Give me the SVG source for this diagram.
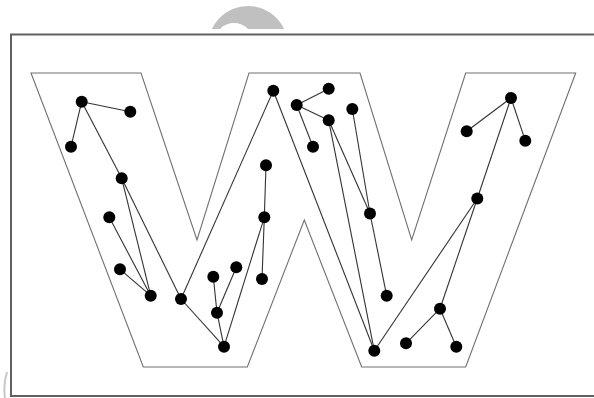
<svg xmlns="http://www.w3.org/2000/svg" width="594" height="398" viewBox="0 0 594 398">
  <style>
    .frame { fill: none; stroke: #606060; stroke-width: 2; }
    .outline { fill: none; stroke: #707070; stroke-width: 1.1; stroke-linejoin: miter; }
    .edge { stroke: #333; stroke-width: 1.1; fill: none; }
    .dot { fill: #000; }
  </style>
  <defs>
    <clipPath id="topclip"><rect x="0" y="0" width="594" height="29"/></clipPath>
  </defs>
  <rect width="594" height="398" fill="#fff"/>
  <g id="watermark">
    <g clip-path="url(#topclip)">
      <circle cx="248" cy="46" r="40" fill="#c0c0c0"/>
      <circle cx="234" cy="42.5" r="19.5" fill="#fff"/>
    </g>
    <path d="M7,372 Q3,385 5,398" fill="none" stroke="#c8c8c8" stroke-width="2"/>
  </g>
  <g id="frame">
    <path class="frame" d="M595,34.5 H11 V396 H595"/>
  </g>
  <g id="letter-w">
    <polygon class="outline" points="31,73 141,73 197,240 249,73 360,73 411.7,240 465.7,73 575.7,73 465.7,367 361.7,367 304.3,220 247.3,367 143.3,367"/>
  </g>
  <g id="connectors">
    <line class="edge" x1="81.7" y1="101.7" x2="130.3" y2="111.7"/>
    <line class="edge" x1="81.7" y1="101.7" x2="71" y2="146.7"/>
    <line class="edge" x1="81.7" y1="101.7" x2="121.7" y2="178.3"/>
    <line class="edge" x1="121.7" y1="178.3" x2="150.7" y2="295.7"/>
    <line class="edge" x1="121.7" y1="178.3" x2="181" y2="299"/>
    <line class="edge" x1="109.3" y1="217.3" x2="150.7" y2="295.7"/>
    <line class="edge" x1="120" y1="269.3" x2="150.7" y2="295.7"/>
    <line class="edge" x1="181" y1="299" x2="224" y2="346.7"/>
    <line class="edge" x1="181" y1="299" x2="273.3" y2="90.7"/>
    <line class="edge" x1="224" y1="346.7" x2="217" y2="312.7"/>
    <line class="edge" x1="217" y1="312.7" x2="213.3" y2="276.7"/>
    <line class="edge" x1="217" y1="312.7" x2="236.3" y2="267.3"/>
    <line class="edge" x1="224" y1="346.7" x2="264.3" y2="217.3"/>
    <line class="edge" x1="264.3" y1="217.3" x2="266" y2="165.3"/>
    <line class="edge" x1="264.3" y1="217.3" x2="262" y2="279"/>
    <line class="edge" x1="273.3" y1="90.7" x2="374.3" y2="350.7"/>
    <line class="edge" x1="296.7" y1="105" x2="328.7" y2="88.7"/>
    <line class="edge" x1="296.7" y1="105" x2="328.7" y2="120.3"/>
    <line class="edge" x1="296.7" y1="105" x2="313" y2="146.7"/>
    <line class="edge" x1="328.7" y1="120.3" x2="370" y2="213.5"/>
    <line class="edge" x1="328.7" y1="120.3" x2="374.3" y2="350.7"/>
    <line class="edge" x1="352.3" y1="109" x2="370" y2="213.5"/>
    <line class="edge" x1="370" y1="213.5" x2="386.7" y2="295.7"/>
    <line class="edge" x1="374.3" y1="350.7" x2="477.3" y2="198.5"/>
    <line class="edge" x1="477.3" y1="198.5" x2="511" y2="98"/>
    <line class="edge" x1="477.3" y1="198.5" x2="440" y2="308.7"/>
    <line class="edge" x1="440" y1="308.7" x2="406" y2="343.3"/>
    <line class="edge" x1="440" y1="308.7" x2="456.3" y2="346.7"/>
    <line class="edge" x1="511" y1="98" x2="466.7" y2="131.3"/>
    <line class="edge" x1="511" y1="98" x2="525.3" y2="140.7"/>
  </g>
  <g id="n1"><circle class="dot" cx="81.7" cy="101.7" r="6"/></g>
  <g id="n2"><circle class="dot" cx="130.3" cy="111.7" r="6"/></g>
  <g id="n3"><circle class="dot" cx="71" cy="146.7" r="6"/></g>
  <g id="n4"><circle class="dot" cx="121.7" cy="178.3" r="6"/></g>
  <g id="n5"><circle class="dot" cx="109.3" cy="217.3" r="6"/></g>
  <g id="n6"><circle class="dot" cx="120" cy="269.3" r="6"/></g>
  <g id="n7"><circle class="dot" cx="150.7" cy="295.7" r="6"/></g>
  <g id="n8"><circle class="dot" cx="181" cy="299" r="6"/></g>
  <g id="n9"><circle class="dot" cx="224" cy="346.7" r="6"/></g>
  <g id="n10"><circle class="dot" cx="217" cy="312.7" r="6"/></g>
  <g id="n11"><circle class="dot" cx="213.3" cy="276.7" r="6"/></g>
  <g id="n12"><circle class="dot" cx="236.3" cy="267.3" r="6"/></g>
  <g id="n13"><circle class="dot" cx="266" cy="165.3" r="6"/></g>
  <g id="n14"><circle class="dot" cx="264.3" cy="217.3" r="6"/></g>
  <g id="n15"><circle class="dot" cx="262" cy="279" r="6"/></g>
  <g id="n16"><circle class="dot" cx="273.3" cy="90.7" r="6"/></g>
  <g id="n17"><circle class="dot" cx="296.7" cy="105" r="6"/></g>
  <g id="n18"><circle class="dot" cx="328.7" cy="88.7" r="6"/></g>
  <g id="n19"><circle class="dot" cx="328.7" cy="120.3" r="6"/></g>
  <g id="n20"><circle class="dot" cx="313" cy="146.7" r="6"/></g>
  <g id="n21"><circle class="dot" cx="352.3" cy="109" r="6"/></g>
  <g id="n22"><circle class="dot" cx="370" cy="213.5" r="6"/></g>
  <g id="n23"><circle class="dot" cx="386.7" cy="295.7" r="6"/></g>
  <g id="n24"><circle class="dot" cx="374.3" cy="350.7" r="6"/></g>
  <g id="n25"><circle class="dot" cx="406" cy="343.3" r="6"/></g>
  <g id="n26"><circle class="dot" cx="440" cy="308.7" r="6"/></g>
  <g id="n27"><circle class="dot" cx="456.3" cy="346.7" r="6"/></g>
  <g id="n28"><circle class="dot" cx="477.3" cy="198.5" r="6"/></g>
  <g id="n29"><circle class="dot" cx="511" cy="98" r="6"/></g>
  <g id="n30"><circle class="dot" cx="466.7" cy="131.3" r="6"/></g>
  <g id="n31"><circle class="dot" cx="525.3" cy="140.7" r="6"/></g>
</svg>
